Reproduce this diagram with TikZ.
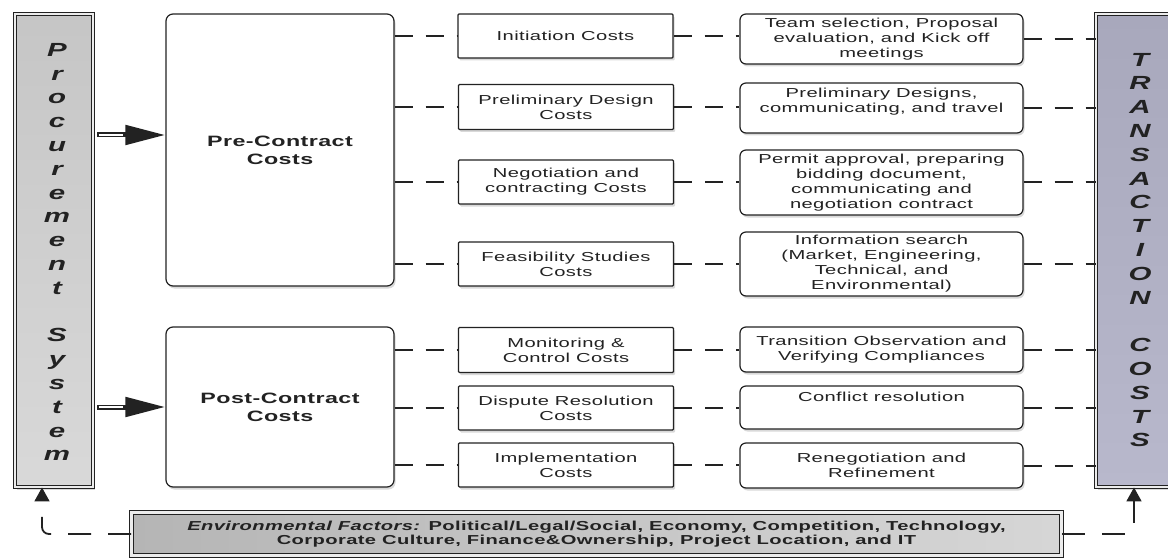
\documentclass[tikz,border=0pt]{standalone}
\usepackage{fontspec}
\setmainfont{Liberation Sans}[FakeStretch=1.55,LetterSpace=3]
\usetikzlibrary{arrows.meta,shadows}
\definecolor{ink}{HTML}{222222}
\definecolor{lavtop}{HTML}{A8A8BC}
\definecolor{lavmid}{HTML}{F2F2F6}
\definecolor{lavbot}{HTML}{B8B8CC}
\begin{document}
\begin{tikzpicture}[x=1pt,y=-1pt,
  every node/.style={text=ink,font=\fontsize{13}{15}\selectfont},
  shad/.style={drop shadow={opacity=0.3,shadow xshift=1.5pt,shadow yshift=-2.5pt}},
  box/.style={draw=ink,line width=1.2pt,fill=white,inner sep=0pt,align=center,shad},
  bigbox/.style={box,rounded corners=7pt,minimum width=228pt,font=\fontsize{15}{18}\selectfont\bfseries},
  midbox/.style={box,rounded corners=1pt,minimum width=215pt},
  descbox/.style={box,rounded corners=6pt,minimum width=283pt},
  bar/.style={draw=ink,line width=0.9pt,double=gray!15,double distance=2.6pt,inner sep=0pt,shad},
  vtext/.style={align=center,font=\fontsize{19}{23.8}\selectfont\bfseries\itshape},
  link/.style={draw=ink,line width=2pt,dash pattern=on 18pt off 13pt},
  envlink/.style={draw=ink,line width=1.8pt,dash pattern=on 23pt off 17pt,rounded corners=7pt,
    -{Triangle[length=14pt,width=15pt]}},
  fatarrow/.style={draw=ink,line width=5pt,-{Triangle[length=40pt,width=19pt]}},
  fatinner/.style={draw=white,line width=2.2pt,shorten >=42pt,shorten <=1.5pt}
]
\useasboundingbox (0,0) rectangle (1168,559);
% side bars
\node[bar,minimum width=78pt,minimum height=473pt,top color=gray!45,middle color=white,bottom color=gray!30] (procbar) at (54,250.5) {};
\node[vtext] (proctext) at (57,252) {P\\r\\o\\c\\u\\r\\e\\m\\e\\n\\t\\~\\S\\y\\s\\t\\e\\m};
\node[bar,minimum width=78pt,minimum height=473pt,top color=lavtop,middle color=lavmid,bottom color=lavbot] (trbar) at (1135,250.5) {};
\node[vtext] (trtext) at (1140,250) {T\\R\\A\\N\\S\\A\\C\\T\\I\\O\\N\\~\\C\\O\\S\\T\\S};
% main boxes
\node[bigbox,minimum height=272pt] (pre) at (280,150) {Pre-Contract\\Costs};
\node[bigbox,minimum height=160pt] (post) at (280,407) {Post-Contract\\Costs};
% middle boxes
\node[midbox,minimum height=44pt] (init) at (565.5,36) {Initiation Costs};
\node[midbox,minimum height=45pt] (pdes) at (566,107) {Preliminary Design\\Costs};
\node[midbox,minimum height=44pt] (nego) at (566,182) {Negotiation and\\contracting Costs};
\node[midbox,minimum height=44pt] (feas) at (566,264) {Feasibility Studies\\Costs};
\node[midbox,minimum height=45pt] (moni) at (566,350) {Monitoring \&\\Control Costs};
\node[midbox,minimum height=44pt] (disp) at (566,408) {Dispute Resolution\\Costs};
\node[midbox,minimum height=44pt] (impl) at (566,465) {Implementation\\Costs};
% description boxes
\node[descbox,minimum height=50pt] (team) at (881.5,39) {Team selection, Proposal\\evaluation, and Kick off\\meetings};
\node[descbox,minimum height=50pt,text depth=15pt] (pdesc) at (881.5,108) {Preliminary Designs,\\communicating, and travel};
\node[descbox,minimum height=65pt] (permit) at (881.5,182.5) {Permit approval, preparing\\bidding document,\\communicating and\\negotiation contract};
\node[descbox,minimum height=64pt] (info) at (881.5,264) {Information search\\(Market, Engineering,\\Technical, and\\Environmental)};
\node[descbox,minimum height=45pt] (trans) at (881.5,349.5) {Transition Observation and\\Verifying Compliances};
\node[descbox,minimum height=43pt,text depth=22pt] (confl) at (881.5,407.5) {Conflict resolution};
\node[descbox,minimum height=45pt] (reneg) at (881.5,465.5) {Renegotiation and\\Refinement};
% environmental factors
\node[bar,minimum width=930pt,minimum height=43pt,left color=gray!58,middle color=gray!8,right color=gray!32,align=center,
  font=\fontsize{13}{14.5}\selectfont\bfseries] (env) at (596.5,534)
  {\textit{Environmental Factors:} Political/Legal/Social, Economy, Competition, Technology,\\Corporate Culture, Finance\&Ownership, Project Location, and IT};
% fat arrows
\coordinate (a1) at (97,135);
\coordinate (a2) at (97,407);
\draw[fatarrow] (a1) -- (a1 -| pre.west);
\draw[fatinner] (a1) -- (a1 -| pre.west);
\draw[fatarrow] (a2) -- (a2 -| post.west);
\draw[fatinner] (a2) -- (a2 -| post.west);
% dashed links
\foreach \m/\d in {init/team,pdes/pdesc,nego/permit,feas/info}{
  \draw[link] (pre.east |- \m.west) -- (\m.west);
  \draw[link] (\m.east) -- (\m.east -| \d.west);
  \draw[link] (\d.east) -- (\d.east -| trbar.west);
}
\foreach \m/\d in {moni/trans,disp/confl,impl/reneg}{
  \draw[link] (post.east |- \m.west) -- (\m.west);
  \draw[link] (\m.east) -- (\m.east -| \d.west);
  \draw[link] (\d.east) -- (\d.east -| trbar.west);
}
% environment feedback
\coordinate (lc) at (42,530);
\coordinate (rc) at (1134,530);
\draw[envlink] (env.west) -| (procbar.south -| lc);
\draw[envlink] (env.east) -| (trbar.south -| rc);
\end{tikzpicture}
\end{document}
